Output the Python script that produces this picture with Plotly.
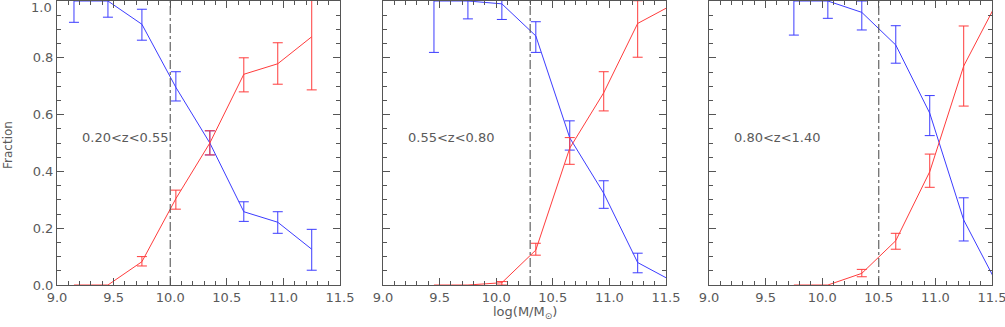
import plotly.graph_objects as go

# ---------------- data ----------------
x1 = [9.15, 9.45, 9.75, 10.05, 10.35, 10.65, 10.95, 11.25]
blue1 = [1.0, 1.0, 0.918, 0.696, 0.50, 0.258, 0.221, 0.126]
blue1_up = [0.075, 0.057, 0.053, 0.055, 0.043, 0.035, 0.037, 0.070]
blue1_lo = [0.075, 0.057, 0.056, 0.048, 0.042, 0.034, 0.039, 0.074]
red1 = [0.0, 0.0, 0.082, 0.304, 0.50, 0.742, 0.779, 0.874]
red1_up = [0, 0, 0.018, 0.030, 0.043, 0.058, 0.074, 0.187]
red1_lo = [0, 0, 0.015, 0.037, 0.042, 0.062, 0.072, 0.187]

x2 = [9.45, 9.75, 10.05, 10.35, 10.65, 10.95, 11.25, 11.55]
blue2 = [1.0, 1.0, 0.99, 0.877, 0.518, 0.323, 0.079, 0.015]
blue2_up = [0.181, 0.063, 0.055, 0.050, 0.060, 0.044, 0.033, 0]
blue2_lo = [0.181, 0.063, 0.055, 0.058, 0.043, 0.053, 0.036, 0]
red2 = [0.0, 0.0, 0.008, 0.123, 0.482, 0.677, 0.921, 0.985]
red2_up = [0, 0, 0.004, 0.024, 0.037, 0.074, 0.080, 0]
red2_lo = [0, 0, 0.008, 0.018, 0.057, 0.064, 0.119, 0]

x3 = [9.75, 10.05, 10.35, 10.65, 10.95, 11.25, 11.55]
blue3 = [1.0, 1.0, 0.96, 0.845, 0.605, 0.229, 0.0]
blue3_up = [0.120, 0.061, 0.040, 0.068, 0.062, 0.078, 0]
blue3_lo = [0.120, 0.061, 0.062, 0.064, 0.079, 0.074, 0]
red3 = [0.0, 0.0, 0.041, 0.156, 0.399, 0.771, 1.0]
red3_up = [0, 0, 0.014, 0.026, 0.062, 0.141, 0]
red3_lo = [0, 0, 0.012, 0.030, 0.055, 0.141, 0]

z_labels = ["0.20<z<0.55", "0.55<z<0.80", "0.80<z<1.40"]
mass_limits = [10.0, 10.3, 10.5]
x_ticks = [9.0, 9.5, 10.0, 10.5, 11.0, 11.5]
y_ticks = [0.0, 0.2, 0.4, 0.6, 0.8, 1.0]

BLUE = "rgb(60,60,255)"
RED = "rgb(255,60,60)"
AX = "#555555"
TXT = "#5a5a5a"
FONT = "DejaVu Sans"

panels = [
    (x1, blue1, blue1_up, blue1_lo, red1, red1_up, red1_lo),
    (x2, blue2, blue2_up, blue2_lo, red2, red2_up, red2_lo),
    (x3, blue3, blue3_up, blue3_lo, red3, red3_up, red3_lo),
]

domains = [[0.0, 0.3027], [0.3487, 0.6513], [0.6973, 1.0]]

fig = go.Figure()

for i, (xs, b, bu, bl, r, ru, rl) in enumerate(panels):
    xa = "x" if i == 0 else f"x{i+1}"
    ya = "y" if i == 0 else f"y{i+1}"
    for vals, up, lo, col in [(b, bu, bl, BLUE), (r, ru, rl, RED)]:
        fig.add_trace(go.Scatter(
            x=xs, y=vals, mode="lines", line=dict(color=col, width=1),
            xaxis=xa, yaxis=ya, showlegend=False, hoverinfo="skip"))
        idx = [k for k in range(len(xs)) if (up[k] > 0 or lo[k] > 0)]
        fig.add_trace(go.Scatter(
            x=[xs[k] for k in idx], y=[vals[k] for k in idx], mode="markers",
            marker=dict(size=1, opacity=0, color=col),
            error_y=dict(type="data", symmetric=False,
                         array=[up[k] for k in idx],
                         arrayminus=[lo[k] for k in idx],
                         color=col, thickness=1, width=5),
            xaxis=xa, yaxis=ya, showlegend=False, hoverinfo="skip"))
    # vertical dash-dot mass limit
    fig.add_trace(go.Scatter(
        x=[mass_limits[i], mass_limits[i]], y=[0, 1], mode="lines",
        line=dict(color="#444444", width=1, dash="dashdot"),
        xaxis=xa, yaxis=ya, showlegend=False, hoverinfo="skip"))
    fig.add_annotation(
        x=9.2, y=0.52, xref=xa, yref=ya, text=z_labels[i], showarrow=False,
        xanchor="left", yanchor="middle",
        font=dict(family=FONT, size=13, color=TXT))

axis_common = dict(
    showline=True, linecolor=AX, linewidth=1, mirror="ticks",
    ticks="inside", ticklen=7, tickwidth=1, tickcolor=AX,
    showgrid=False, zeroline=False, automargin=False,
    ticklabeloverflow="allow",
    tickfont=dict(family=FONT, size=13, color=TXT),
)

for i in range(3):
    sfx = "" if i == 0 else str(i + 1)
    fig.update_layout(**{
        f"xaxis{sfx}": dict(
            axis_common, domain=domains[i], range=[9.0, 11.5],
            anchor=f"y{sfx}", tickvals=x_ticks,
            ticktext=[f"{v:.1f}" for v in x_ticks],
            minor=dict(dtick=0.1, ticks="inside", ticklen=4,
                       tickcolor=AX, showgrid=False)),
        f"yaxis{sfx}": dict(
            axis_common, domain=[0, 1], range=[0, 1],
            anchor=f"x{sfx}",
            # the top label (1.0) is placed as an annotation so it is not clipped
            tickvals=y_ticks[:-1],
            ticktext=[f"{v:.1f}" for v in y_ticks[:-1]],
            showticklabels=(i == 0),
            minor=dict(dtick=0.05, ticks="inside", ticklen=4,
                       tickcolor=AX, showgrid=False)),
    })

# top y tick label (shifted down slightly so it stays inside the page)
fig.add_annotation(
    x=0, y=y_ticks[-1], xref="paper", yref="y", text=f"{y_ticks[-1]:.1f}",
    showarrow=False, xanchor="right", yanchor="top", xshift=-3, yshift=3,
    font=dict(family=FONT, size=13, color=TXT))

fig.add_annotation(
    x=-0.0524, y=0.493, xref="paper", yref="paper", text="Fraction",
    textangle=-90, showarrow=False, xanchor="center", yanchor="middle",
    font=dict(family=FONT, size=12, color=TXT))
fig.add_annotation(
    x=0.5, y=-0.097, xref="paper", yref="paper",
    text="log(M/M<sub>⊙</sub>)", showarrow=False,
    xanchor="center", yanchor="middle",
    font=dict(family=FONT, size=13, color=TXT))

fig.update_layout(
    width=1005, height=327,
    margin=dict(l=57, r=13, t=1, b=42),
    paper_bgcolor="white", plot_bgcolor="white",
)

fig.write_html("out.html",
               config={"displayModeBar": False},
               post_script="document.body.style.margin='0';"
                           "document.body.style.overflow='hidden';")
